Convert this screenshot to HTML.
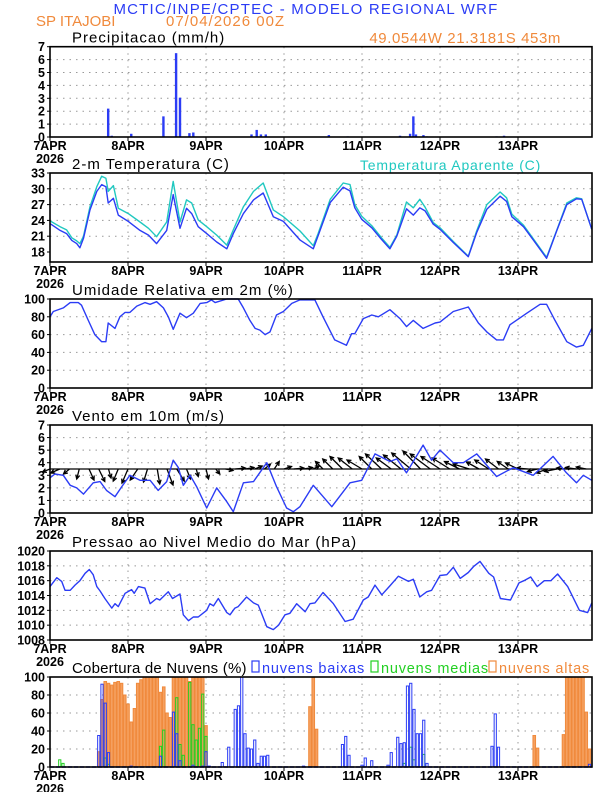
<!DOCTYPE html>
<html><head><meta charset="utf-8"><title>Meteograma WRF</title>
<style>
html,body{margin:0;padding:0;background:#fff;}
svg{display:block;font-family:"Liberation Sans",sans-serif;}
</style></head>
<body>
<svg id="chart" width="612" height="792" viewBox="0 0 612 792">
<text x="306" y="14" text-anchor="middle" font-size="15" letter-spacing="1.2" fill="#2b3cf5">MCTIC/INPE/CPTEC - MODELO REGIONAL WRF</text>
<text x="36" y="26" font-size="15" fill="#f08a3c">SP ITAJOBI</text>
<text x="166" y="26" font-size="15" letter-spacing="1" fill="#f08a3c">07/04/2026 00Z</text>
<text x="561" y="43" text-anchor="end" font-size="15" letter-spacing="0.6" fill="#f08a3c">49.0544W 21.3181S 453m</text>
<text x="360" y="170" font-size="14" letter-spacing="0.8" fill="#20c8c0">Temperatura Aparente (C)</text>
<g id="panels"></g>
</svg>
<script>
// ---- Time axis ----
const dayLabels = ["7APR","8APR","9APR","10APR","11APR","12APR","13APR"];
// ---- Precipitation (mm/h) ----
const precipT = [17.9,19,25,34.9,38.8,40,42.9,44.1,62,63.6,64.9,66.4,85.8,91.6,107.7,110.8,111.8,112.6,114.9,115.9,137.4,139.7];
const precipV = [2.2,0.1,0.25,1.6,6.5,3.05,0.3,0.35,0.2,0.55,0.2,0.2,0.15,0.05,0.1,0.25,1.6,0.2,0.15,0.05,0.05,0.1];
// ---- Temperature (C) ----
const tempT = [0,3.1,5.1,6.7,8.2,9.2,10.3,12.3,14.4,15.9,17.2,17.9,19.5,21,24.1,27.7,30.3,32.8,35.9,37.9,40,42,43.6,45.6,48.2,51.3,54.4,56.4,59.5,62.6,65.6,68.7,71.8,76.9,81,82.5,86.2,90.2,92.3,93.8,95.9,99,102,104.6,106.7,109.7,111.8,113.8,115.4,117.9,120,124.1,128.7,131.3,134.4,138.5,140.5,142.1,145.7,148.7,152.8,155.9,159,162,163.6,166.7];
const tempV = [23.4,22.1,21.5,20.2,19.6,18.8,20.6,26,29.5,30.8,30.4,27.3,28.2,25,23.8,22.1,21.2,19.6,22.1,28.9,22.5,26.3,25.3,22.8,21.5,19.9,18.6,21.5,25.3,27.9,29.2,24.7,23.8,20.3,18.6,21.1,27.4,30.3,29.6,26.4,24.2,22.6,20.4,18.6,21,26.2,25,26.4,25.8,23.3,22.3,19.8,17.1,21.7,26.1,28.6,27.6,24.7,22.8,20.3,16.8,22,27,28.1,28,22.3];
const appV = [23.9,22.8,22.2,20.7,20.1,19.6,21,26.6,30.4,32.4,32,29.5,30.6,26.3,25.3,23.7,22.5,20.9,23.7,31.4,23.7,27.9,27.3,24.1,22.8,21.2,19.3,22.2,26.6,29.5,31.1,26,24.7,22,19.2,21.5,28,31.1,30.8,27,24.8,23,20.7,18.9,21.2,27.5,26.4,28,26.5,23.6,22.6,20,17.2,22,27,29.4,28.3,25.2,23.1,20.5,17,22.1,27.3,28.3,28.1,22.3];
// ---- Relative humidity (%) ----
const rhT = [0,1,4.1,6.2,8.7,9.7,11.8,13.8,15.9,17.2,17.9,20,21.5,23.1,24.6,26.7,29.2,30.8,32.8,34.9,36.4,37.9,40,42,44.1,46.2,48.2,49.7,50.8,54.4,57.9,59.5,61.5,63.1,64.6,66.2,67.7,69.7,71.8,74.4,76.9,81.5,84,87.6,91.2,92.8,93.8,96.4,99,101,104.6,107.7,109.7,111.8,114.8,118.5,120,124.1,128.7,131.8,134.4,137.4,139.5,141.5,146.7,150.8,152.8,155.4,159,162,164.1,166.7];
const rhV = [80,86,90,96,96,93,76,60,52,52,73,67,80,85,85,92,96,94,97,90,80,66,84,79,84,95,96,99,96,100,100,90,76,67,65,60,63,82,86,95,99,99,80,54,48,61,61,78,82,80,88,78,69,76,67,73,74,86,91,73,63,54,54,71,84,94,94,76,52,46,48,67];
// ---- Wind speed (m/s) ----
const windT = [0,1.5,4.1,6.2,8.2,10.3,13.3,15.4,17.4,20,22.1,24.6,27.7,30.8,33.3,35.9,37.9,39.5,41,43.1,45.1,48.2,51.3,54.4,56.4,59.5,62.6,66.7,69.7,72.8,74.9,76.9,81,86.7,92.3,95.9,100,104.6,106.7,109.7,114.8,117.4,120,124.1,127.2,131.3,137.4,142.5,148.7,154.8,158.9,162,164.1,166.7];
const windV = [2.8,3.1,3,2.2,2,1.5,2.4,2.5,1.8,1.3,2.1,3,2.6,2.6,1.8,2.5,4.2,3.6,2.2,3,2.1,0.4,2,0.9,0.1,2.4,2.5,4,2.1,0.4,0.1,0.5,2.2,0.5,2.4,2.6,4.7,4.1,4.3,3.2,5.4,4.2,5,4,4,4.7,2.9,3.6,3,4.5,3.2,2.4,3,2.6];
// wind vectors (3-hourly): u east, v north (m/s)
const vecT = [0,3,6,9,12,15,18,21,24,27,30,33,36,39,42,45,48,51,54,57,60,63,66,69,72,75,78,81,84,87,90,93,96,99,102,105,108,111,114,117,120,123,126,129,132,135,138,141,144,147,150,153,156,159,162,165];
const vecU = [-1.5,-1.8,-1.2,-0.5,1,1.2,0.5,-1,-1.2,-1.5,-0.8,0.5,1.2,1.5,0.8,0.4,0.5,0.8,1.5,2,1.8,1.5,1.2,1,1.5,2,1.8,1.2,-1.5,-2,-2.5,-2.8,-3,-2.5,-3.2,-3,-3.5,-3.8,-3.5,-4,-3.8,-3.5,-3,-3.2,-2.5,-2.8,-2.6,-2.2,-2.5,-2.2,-2,-2.2,-2.5,-2,-2.2,-2];
const vecV = [-0.6,-0.8,-1,-2,-2.2,-2.5,-1.8,-2.4,-2.8,-2.2,-2.6,-3,-3.2,-2.4,-2,-1.5,-2,-1,-0.3,0.2,0.3,0.6,1,1.5,0.5,0.2,0.3,0.6,1.5,2,2.5,2.2,1.8,2.5,3,2.2,2.8,3.2,3.6,3,2.5,2.2,1.5,1,1.4,1.8,2,1.5,1.2,0.2,-0.5,-0.8,-0.5,0.2,0.3,0.4];
// ---- Sea level pressure (hPa) ----
const presT = [0,2.1,3.6,4.6,6.2,7.7,9.2,10.8,12.1,13.3,14.4,15.4,16.9,19,20,21,23.1,25.1,25.9,27.2,29.2,30.8,32.8,33.8,36.4,37.7,40,41,42.6,44.1,45.6,48.2,49.2,50.3,51.8,54.4,55.4,56.9,57.9,60.5,62.6,64.1,66.7,68.7,70.3,72.3,73.8,75.9,78.5,80,81.5,84,87.2,90.8,93.3,96.4,97.9,100,102.1,104.6,107.2,110.3,111.8,113.8,115.9,117.4,120,122.1,124.1,126.2,128.7,130.3,132.3,135,136.5,138.6,141.7,144.3,145.8,147.9,149.9,152.1,154.1,156.2,159.3,162.9,165.4,166.7];
const presV = [1015.2,1016.4,1015.9,1014.7,1014.7,1015.4,1016,1017,1017.5,1016.8,1015.2,1014.6,1013.6,1012.3,1012.9,1012.5,1014.3,1014.8,1014.3,1015.2,1015,1012.9,1013.6,1013.4,1014.5,1013.6,1014.2,1011.4,1010.6,1011.1,1011.1,1012,1012.9,1012.6,1013.6,1011.7,1011.4,1012.3,1012.5,1013.8,1013,1012.7,1009.8,1009.4,1010,1011.4,1011.6,1012.9,1011.8,1012.9,1013,1014.4,1012.9,1010.5,1010.8,1013.4,1013.8,1015.4,1014.1,1015.3,1016.6,1015.9,1016.2,1013.8,1014.5,1014.7,1016.7,1016.8,1017.8,1016.3,1017.1,1017.9,1018.6,1017,1016.5,1013.6,1013.4,1015.7,1016,1016.5,1015.2,1016,1016,1016.9,1015.2,1012,1011.7,1013];
// ---- Cloud cover (%) ----
const highT = [15,16,17,18,19,20,21,22,23,24,25,26,27,28,29,30,31,32,33,34,35,36,37,38,39,40,41,42,43,44,45,46,47,48,80,81,82,149,150,158,159,160,161,162,163,164,165,166];
const highV = [17,75,95,93,91,94,95,93,80,70,50,65,93,97,100,100,100,100,100,83,89,60,55,100,100,100,100,100,95,100,100,100,100,46,67,100,42,35,21,36,100,100,100,100,100,100,61,20];
const lowT = [15,16,17,18,25,34,38,39,40,44,47,48,49,53,55,57,58,59,60,61,62,63,64,65,66,67,78,90,91,92,96,97,99,104,105,107,108,109,110,111,112,113,114,115,116,136,137,138,166];
const lowV = [35,92,71,16,1,12,61,37,7,2,1,17,1,5,22,64,68,100,37,21,20,30,4,12,12,13,1,25,34,13,2,10,7,2,16,33,26,27,90,93,64,37,37,52,4,23,59,22,3];
const midT = [3,4,17,18,34,35,39,40,41,43,44,45,46,47,48,109,111,112,115];
const midV = [8,4,10,3,23,41,77,25,13,94,47,30,43,81,34,4,22,8,14];

const NS = "http://www.w3.org/2000/svg";
const root = document.getElementById("panels");
const X0 = 50, X1 = 592, PXH = 3.25;
function xs(t){ return X0 + t*PXH; }
function mk(tag, attrs, parent){
  const e = document.createElementNS(NS, tag);
  for (const k in attrs) e.setAttribute(k, attrs[k]);
  (parent||root).appendChild(e);
  return e;
}

function panel(cfg){
  const g = mk("g", {});
  
  
  const ys = v => cfg.bottom - (v - cfg.min) / (cfg.max - cfg.min) * (cfg.bottom - cfg.top);
  for (const tv of cfg.ticks){
    const y = ys(tv);
    if (tv !== cfg.ticks[0] && Math.abs(y - cfg.top) > 1) {
      const gl = mk("line", {x1:X0, x2:X1, y1:y, y2:y, stroke:"#999", "stroke-width":1, "stroke-dasharray":"1.5,5"}, g);
      
      
    }
    const tl = mk("text", {x:45, y:y+4.5, "text-anchor":"end", "font-size":12.5, fill:"#000", "font-weight":"bold"}, g);
    tl.textContent = tv;
    
    
    mk("line", {x1:X0-3, x2:X0, y1:y, y2:y, stroke:"#000", "stroke-width":1}, g);
  }
  for (let d = 1; d < dayLabels.length; d++){
    const x = xs(d*24);
    const vl = mk("line", {x1:x, x2:x, y1:cfg.top, y2:cfg.bottom, stroke:"#999", "stroke-width":1, "stroke-dasharray":"1.5,5"}, g);
    
    
  }
  for (let d = 0; d < dayLabels.length; d++){
    const x = xs(d*24);
    mk("line", {x1:x, x2:x, y1:cfg.bottom, y2:cfg.bottom+4, stroke:"#000", "stroke-width":1}, g);
    const xl = mk("text", {x:x, y:cfg.bottom+13, "text-anchor":"middle", "font-size":12.5, "font-weight":"bold", fill:"#000"}, g);
    xl.textContent = dayLabels[d];
    
    
  }
  const yr = mk("text", {x:xs(0), y:cfg.bottom+26, "text-anchor":"middle", "font-size":12.5, "font-weight":"bold", fill:"#000"}, g);
  yr.textContent = "2026";
  
  
  const tt = mk("text", {x:72, y:cfg.top-4, "font-size":15, "letter-spacing":(cfg.ls===undefined?1:cfg.ls), fill:"#000"}, g);
  tt.textContent = cfg.title;
  
  
  cfg.draw(g, ys);
  const fr = mk("rect", {x:X0, y:cfg.top, width:X1-X0, height:cfg.bottom-cfg.top, fill:"none", stroke:"#000", "stroke-width":1.6}, g);
  
  
  return g;
}

function line(g, T, V, ys, color, name){
  const pts = T.map((t,i) => xs(t).toFixed(1) + "," + ys(V[i]).toFixed(1)).join(" ");
  const p = mk("polyline", {points:pts, fill:"none", stroke:color, "stroke-width":1.4, "stroke-linejoin":"round"}, g);
  
  
}

function bars(g, T, V, ys, fill, stroke, w, name){
  T.forEach((t,i) => {
    const x = xs(t) - w/2, y = ys(V[i]), h = ys(0) - y;
    const r = mk("rect", {x:x, y:y, width:w, height:Math.max(h,0), fill:fill, stroke:stroke, "stroke-width":stroke==="none"?0:1}, g);
    
    
  });
}

panel({name:"precip", title:"Precipitacao (mm/h)", top:46.7, bottom:137, min:0, max:7, ticks:[0,1,2,3,4,5,6,7],
  draw:(g,ys)=>{ bars(g, precipT, precipV, ys, "#2b3cf5", "none", 2.4, "precip-bar"); }});

panel({name:"temperature", title:"2-m Temperatura (C)", top:173, bottom:262, min:16.1, max:33, ticks:[18,21,24,27,30,33],
  draw:(g,ys)=>{ line(g, tempT, appV, ys, "#20c8c0", "apparent-temp-line"); line(g, tempT, tempV, ys, "#2b3cf5", "temp-line"); }});

panel({name:"humidity", title:"Umidade Relativa em 2m (%)", top:299, bottom:388, min:0, max:100, ticks:[0,20,40,60,80,100],
  draw:(g,ys)=>{ line(g, rhT, rhV, ys, "#2b3cf5", "humidity-line"); }});

panel({name:"wind", title:"Vento em 10m (m/s)", top:425, bottom:513, min:0, max:7, ticks:[0,1,2,3,4,5,6,7],
  draw:(g,ys)=>{
    const y0 = ys(3.5), sc = 5;
    vecT.forEach((t,i) => {
      const x = xs(t), dx = vecU[i]*sc, dy = -vecV[i]*sc;
      const len = Math.hypot(dx,dy) || 1, ux = dx/len, uy = dy/len;
      const hx = x+dx, hy = y0+dy;
      const a = mk("path", {d:`M${x},${y0}L${hx},${hy}M${hx-4*ux+2*uy},${hy-4*uy-2*ux}L${hx},${hy}L${hx-4*ux-2*uy},${hy-4*uy+2*ux}`, stroke:"#000", "stroke-width":1.3, fill:"none"}, g);
      
      
    });
    const bl = mk("line", {x1:X0, x2:X1, y1:y0, y2:y0, stroke:"#000", "stroke-width":1.2}, g);
    
    
    line(g, windT, windV, ys, "#2b3cf5", "wind-speed-line");
  }});

panel({name:"pressure", title:"Pressao ao Nivel Medio do Mar (hPa)", top:551, bottom:640, min:1008, max:1020, ticks:[1008,1010,1012,1014,1016,1018,1020],
  draw:(g,ys)=>{ line(g, presT, presV, ys, "#2b3cf5", "pressure-line"); }});

panel({name:"clouds", title:"Cobertura de Nuvens (%)", ls:0.2, top:677, bottom:767, min:0, max:100, ticks:[0,20,40,60,80,100],
  draw:(g,ys)=>{
    bars(g, highT, highV, ys, "#f5a060", "#f08a3c", 2.6, "cloud-high-bar");
    bars(g, midT, midV, ys, "none", "#22d022", 2.2, "cloud-mid-bar");
    bars(g, lowT, lowV, ys, "none", "#2b3cf5", 2.2, "cloud-low-bar");
    const base = mk("line", {x1:X0, x2:X1, y1:ys(0), y2:ys(0), stroke:"#2b3cf5", "stroke-width":1.5, "stroke-dasharray":"4,2"}, g);
    
    
  }});

const legend = [["nuvens baixas","#2b3cf5",252],["nuvens medias","#22d022",371],["nuvens altas","#f08a3c",489]];
legend.forEach(l => {
  const b = mk("rect", {x:l[2], y:661, width:7, height:11, fill:"none", stroke:l[1], "stroke-width":1.2});
  
  
  const t = mk("text", {x:l[2]+10, y:673, "font-size":14.5, "letter-spacing":0.8, fill:l[1]});
  t.textContent = l[0];
  
  
});
</script>
</body></html>
